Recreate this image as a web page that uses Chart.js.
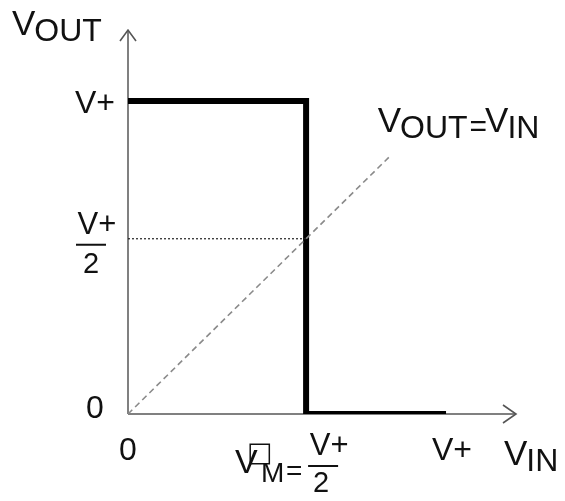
<!DOCTYPE html>
<html>
<head>
<meta charset="utf-8">
<script src="https://cdn.jsdelivr.net/npm/chart.js@4/dist/chart.umd.min.js"></script>
<style>
  body { margin: 0; background: #fff; }
  #wrap { width: 565px; height: 501px; }
</style>
</head>
<body>
<div id="wrap"><canvas id="chart" width="565" height="501"></canvas></div>
<script>
// values in units of V+
const vPlus = 1;
const vMid = 0.56;          // switching point V_M
const stepX = [0, vMid, vMid, 1.0];
const stepY = [1, 1, 0, 0];
const halfX = [0, vMid];
const halfY = [0.56, 0.56];
const diagX = [0, 0.82];
const diagY = [0, 0.82];

function pts(xs, ys) {
    return xs.map((x, i) => ({ x: x, y: ys[i] }));
}

const FONT = '"Liberation Sans", Arial, sans-serif';
const INK = '#111';

function txt(ctx, s, x, y, size, align) {
    ctx.font = size + 'px ' + FONT;
    ctx.textAlign = align || 'left';
    ctx.fillText(s, x, y);
    return ctx.measureText(s).width;
}

// V with a lowered, smaller suffix, e.g. V OUT
function vSub(ctx, sub, x, y) {
    let w = txt(ctx, 'V', x, y, 35);
    w += txt(ctx, sub, x + w - 1, y + 6, 32);
    return w;
}

// top text, bar and bottom text; f = {top, bottom, cx, base, barCx, barW, barDy, botCx, botDy}
function fraction(ctx, f) {
    txt(ctx, f.top, f.cx, f.base, 31, 'center');
    ctx.fillRect(f.barCx - f.barW / 2, f.base + f.barDy, f.barW, 2);
    txt(ctx, f.bottom, f.botCx, f.base + f.botDy, 29, 'center');
}

const axesPlugin = {
    id: 'axesPlugin',
    beforeDatasetsDraw(chart) {
        const ctx = chart.ctx;
        const x = chart.scales.x, y = chart.scales.y;
        const x0 = x.getPixelForValue(0), y0 = y.getPixelForValue(0);
        const xEnd = x.right, yEnd = y.top;
        ctx.save();
        ctx.strokeStyle = '#808080';
        ctx.lineWidth = 2;
        ctx.beginPath();
        ctx.moveTo(x0, y0); ctx.lineTo(x0, yEnd);
        ctx.moveTo(x0, y0); ctx.lineTo(xEnd, y0);
        ctx.stroke();
        ctx.lineWidth = 1.6;
        ctx.strokeStyle = '#555';
        ctx.beginPath();
        ctx.moveTo(x0 - 8, yEnd + 11); ctx.lineTo(x0, yEnd); ctx.lineTo(x0 + 8, yEnd + 11);
        ctx.moveTo(xEnd - 13, y0 - 9); ctx.lineTo(xEnd, y0); ctx.lineTo(xEnd - 13, y0 + 9);
        ctx.stroke();
        ctx.restore();
    },
    afterDatasetsDraw(chart) {
        const ctx = chart.ctx;
        const x = chart.scales.x, y = chart.scales.y;
        const x0 = x.getPixelForValue(0), y0 = y.getPixelForValue(0);
        ctx.save();
        ctx.fillStyle = INK;
        ctx.textBaseline = 'alphabetic';

        // axis titles
        vSub(ctx, 'OUT', x0 - 116, y.top + 5);
        vSub(ctx, 'IN', x.right - 12, y0 + 51);
        // diagonal label
        let lx = x.getPixelForValue(0.785), ly = y.getPixelForValue(0.9);
        let w = vSub(ctx, 'OUT', lx, ly);
        w += txt(ctx, '=', lx + w + 1, ly + 4, 30);
        vSub(ctx, 'IN', lx + w - 1, ly);

        // y ticks
        const yTop = y.getPixelForValue(vPlus);
        txt(ctx, 'V+', x0 - 13, yTop + 12, 32, 'right');
        txt(ctx, '0', x0 - 33, y0 + 4, 32, 'center');
        const yh = y.getPixelForValue(halfY[0]);
        fraction(ctx, { top: 'V+', bottom: '2', cx: x0 - 31, base: yh - 5,
            barCx: x0 - 37, barW: 30, barDy: 10, botCx: x0 - 37, botDy: 39 });

        // x ticks
        txt(ctx, '0', x0, y0 + 46, 32, 'center');
        txt(ctx, 'V+', x.getPixelForValue(vPlus) + 6, y0 + 46, 32, 'center');

        // V_M = V+/2
        const mx = x.getPixelForValue(vMid);
        txt(ctx, 'V', mx - 71, y0 + 59, 34);
        ctx.font = '27px "DejaVu Sans"';
        ctx.textAlign = 'left';
        ctx.fillText('\u25A1', mx - 59, y0 + 47);
        txt(ctx, 'M', mx - 45, y0 + 68, 28);
        txt(ctx, '=', mx - 20, y0 + 66, 28);
        fraction(ctx, { top: 'V+', bottom: '2', cx: mx + 23, base: y0 + 41,
            barCx: mx + 17, barW: 30, barDy: 10, botCx: mx + 15, botDy: 37 });
        ctx.restore();
    }
};

new Chart(document.getElementById('chart'), {
    type: 'scatter',
    data: {
        datasets: [
            {
                label: 'V_OUT=V_IN',
                data: pts(diagX, diagY),
                showLine: true,
                borderColor: '#8a8a8a',
                borderWidth: 1.6,
                borderDash: [6, 4],
                pointRadius: 0
            },
            {
                label: 'V+/2',
                data: pts(halfX, halfY),
                showLine: true,
                borderColor: '#222',
                borderWidth: 1.2,
                borderDash: [2, 2],
                pointRadius: 0
            },
            {
                label: 'V_OUT',
                data: pts(stepX, stepY),
                showLine: true,
                borderColor: '#000',
                borderWidth: 6,
                borderJoinStyle: 'miter',
                pointRadius: 0
            }
        ]
    },
    options: {
        responsive: false,
        animation: false,
        events: [],
        layout: { padding: { left: 128, right: 49, top: 30, bottom: 87 } },
        plugins: { legend: { display: false }, tooltip: { enabled: false } },
        scales: {
            x: { type: 'linear', min: 0, max: 1.22, display: false },
            y: { type: 'linear', min: 0, max: 1.227, display: false }
        }
    },
    plugins: [axesPlugin]
});
</script>
</body>
</html>
